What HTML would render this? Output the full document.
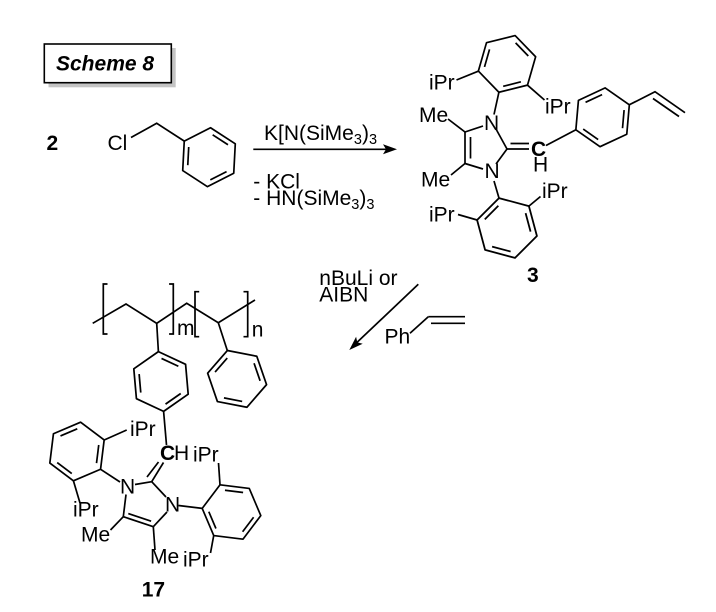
<!DOCTYPE html>
<html><head><meta charset="utf-8"><style>
html,body{margin:0;padding:0;background:#fff;}
svg{display:block;}
text{font-family:"Liberation Sans",Arial,sans-serif;font-size:21px;fill:#000;}
.b{font-weight:bold;}
</style></head><body>
<svg width="716" height="612" viewBox="0 0 716 612" xmlns="http://www.w3.org/2000/svg">
<defs>
<path id="hx" d="M29.5,0 L14.75,25.55 L-14.75,25.55 L-29.5,0 L-14.75,-25.55 L14.75,-25.55 Z" fill="none" stroke="#000" stroke-width="1.7" stroke-linejoin="round"/>
<line id="dl" x1="22.56" y1="2.49" x2="13.44" y2="18.29" stroke="#000" stroke-width="1.7"/>
</defs>

<!-- Scheme 8 box -->
<rect x="48.5" y="48" width="127.2" height="39.3" fill="#c4c4c4"/>
<rect x="44.3" y="44" width="127" height="38.7" fill="#fff" stroke="#000" stroke-width="1.6"/>
<text x="56" y="70.5" class="b" font-style="italic">Scheme 8</text>

<!-- 2 + benzyl chloride -->
<text x="46.5" y="150" class="b">2</text>
<text x="107.5" y="150">Cl</text>
<g fill="none" stroke="#000" stroke-width="1.7">
<polyline points="131,137.5 156.7,123.3 184.3,141.1"/>
</g>
<use href="#hx" transform="translate(209,157.2) rotate(-87)"/>
<use href="#dl" transform="translate(209,157.2) rotate(-87)"/>
<use href="#dl" transform="translate(209,157.2) rotate(33)"/>
<use href="#dl" transform="translate(209,157.2) rotate(153)"/>

<!-- arrow 1 -->
<line x1="253.3" y1="149.3" x2="386" y2="149.3" stroke="#000" stroke-width="1.7"/>
<polygon points="397,149.3 383,144.3 386,149.3 383,154.3" fill="#000"/>
<text x="264" y="140">K[N(SiMe<tspan font-size="14.5" dy="4">3</tspan><tspan dy="-4">)</tspan><tspan font-size="14.5" dy="4">3</tspan></text>
<text x="253.3" y="188.3">- KCl</text>
<text x="253.3" y="205">- HN(SiMe<tspan font-size="14.5" dy="4">3</tspan><tspan dy="-4">)</tspan><tspan font-size="14.5" dy="4">3</tspan></text>

<!-- compound 3 -->
<use href="#hx" transform="translate(507,63.9) rotate(-74)"/>
<use href="#dl" transform="translate(507,63.9) rotate(-74)"/>
<use href="#dl" transform="translate(507,63.9) rotate(46)"/>
<use href="#dl" transform="translate(507,63.9) rotate(166)"/>

<use href="#hx" transform="translate(507,228) rotate(-105) scale(1.05)"/>
<use href="#dl" transform="translate(507,228) rotate(-45) scale(1.05)"/>
<use href="#dl" transform="translate(507,228) rotate(75) scale(1.05)"/>
<use href="#dl" transform="translate(507,228) rotate(195) scale(1.05)"/>

<use href="#hx" transform="translate(602.6,117.3) rotate(-85)"/>
<use href="#dl" transform="translate(602.6,117.3) rotate(-25)"/>
<use href="#dl" transform="translate(602.6,117.3) rotate(95)"/>
<use href="#dl" transform="translate(602.6,117.3) rotate(215)"/>

<g fill="none" stroke="#000" stroke-width="1.7">
<line x1="499" y1="91.8" x2="494" y2="114.5"/>
<line x1="478.9" y1="70.9" x2="456.5" y2="80"/>
<line x1="527.1" y1="84.8" x2="544.5" y2="100"/>
<line x1="483" y1="126" x2="465" y2="132"/>
<line x1="465" y1="132" x2="465" y2="163.5"/>
<line x1="470.5" y1="137" x2="470.5" y2="158.5"/>
<line x1="465" y1="163.5" x2="483" y2="169"/>
<line x1="496" y1="164" x2="507" y2="149"/>
<line x1="507" y1="149" x2="496" y2="129"/>
<line x1="507" y1="149" x2="529" y2="149"/>
<line x1="510.5" y1="143.5" x2="529" y2="143.5"/>
<line x1="448" y1="119" x2="465" y2="132"/>
<line x1="465" y1="163.5" x2="451" y2="175"/>
<line x1="546" y1="145.5" x2="575.9" y2="129.8"/>
<polyline points="629.3,104.8 655,91.7 685,112.7"/>
<line x1="653" y1="98.5" x2="679" y2="116.5"/>
<line x1="494" y1="181" x2="499" y2="198.1"/>
<line x1="528.9" y1="206.1" x2="540.5" y2="196.5"/>
<line x1="477.1" y1="220" x2="458" y2="214.5"/>
</g>
<text x="429" y="89.5">iPr</text>
<text x="545" y="113.5">iPr</text>
<text x="419" y="122">Me</text>
<text x="484" y="130">N</text>
<text x="531" y="156" class="b">C</text>
<text x="533" y="171.7">H</text>
<text x="421" y="186.7">Me</text>
<text x="484.5" y="178">N</text>
<text x="542" y="198">iPr</text>
<text x="429" y="221.5">iPr</text>
<text x="527" y="282" class="b">3</text>

<!-- arrow 2 -->
<text x="319.3" y="285">nBuLi or</text>
<text x="319.3" y="301.7">AIBN</text>
<line x1="418.3" y1="284.3" x2="357" y2="342.4" stroke="#000" stroke-width="1.7"/>
<polygon points="349.3,350 356.1,336.8 357.3,342.4 362.7,343.8" fill="#000"/>
<text x="384.5" y="343.3">Ph</text>
<g stroke="#000" stroke-width="1.7" fill="none">
<line x1="410" y1="333.3" x2="428.3" y2="316.7"/>
<line x1="428.3" y1="316.7" x2="465" y2="316.7"/>
<line x1="431" y1="323.3" x2="465" y2="323.3"/>
</g>

<!-- polymer 17 -->
<g stroke="#000" stroke-width="1.7" fill="none">
<polyline points="92.7,323.3 126,304 156.7,323.3 186.7,303.3 218.3,322.7 255,300"/>
<polyline points="107.5,284 103.3,284 103.3,334 107.5,334"/>
<polyline points="169.1,284 173.3,284 173.3,334 169.1,334"/>
<polyline points="199.2,291.7 195,291.7 195,336.7 199.2,336.7"/>
<polyline points="243.5,291.7 247.7,291.7 247.7,336.7 243.5,336.7"/>
<line x1="156.7" y1="323.3" x2="158.4" y2="351.6"/>
<line x1="218.3" y1="322.7" x2="227.3" y2="350.5"/>
<line x1="163.6" y1="411.4" x2="166.5" y2="445"/>
</g>
<text x="177" y="335">m</text>
<text x="251.7" y="336.7">n</text>

<use href="#hx" transform="translate(161,381.5) rotate(-95) scale(1.017)"/>
<use href="#dl" transform="translate(161,381.5) rotate(-95) scale(1.017)"/>
<use href="#dl" transform="translate(161,381.5) rotate(25) scale(1.017)"/>
<use href="#dl" transform="translate(161,381.5) rotate(145) scale(1.017)"/>

<use href="#hx" transform="translate(237.1,378.9) rotate(-109) scale(1.017)"/>
<use href="#dl" transform="translate(237.1,378.9) rotate(-49) scale(1.017)"/>
<use href="#dl" transform="translate(237.1,378.9) rotate(71) scale(1.017)"/>
<use href="#dl" transform="translate(237.1,378.9) rotate(191) scale(1.017)"/>

<use href="#hx" transform="translate(77,451.5) rotate(-83)"/>
<use href="#dl" transform="translate(77,451.5) rotate(-23)"/>
<use href="#dl" transform="translate(77,451.5) rotate(97)"/>
<use href="#dl" transform="translate(77,451.5) rotate(217)"/>

<use href="#hx" transform="translate(231.5,512) rotate(7)"/>
<use href="#dl" transform="translate(231.5,512) rotate(7)"/>
<use href="#dl" transform="translate(231.5,512) rotate(127)"/>
<use href="#dl" transform="translate(231.5,512) rotate(247)"/>

<g stroke="#000" stroke-width="1.7" fill="none">
<line x1="151.7" y1="481.7" x2="163.5" y2="462.5"/>
<line x1="147" y1="477" x2="158.5" y2="462"/>
<line x1="135" y1="484.5" x2="151.7" y2="481.7"/>
<line x1="151.7" y1="481.7" x2="166" y2="497"/>
<line x1="167" y1="512" x2="153.3" y2="526.7"/>
<line x1="153.3" y1="526.7" x2="123.3" y2="516.7"/>
<line x1="151.1" y1="521.2" x2="128.3" y2="513.6"/>
<line x1="123.3" y1="516.7" x2="126" y2="494.5"/>
<line x1="123.3" y1="516.7" x2="110.5" y2="530"/>
<line x1="153.3" y1="526.7" x2="155" y2="550"/>
<line x1="120" y1="482" x2="100.6" y2="469.3"/>
<line x1="104.2" y1="440" x2="126.7" y2="430"/>
<line x1="73.4" y1="480.8" x2="80" y2="503"/>
<line x1="178.5" y1="505.5" x2="202.2" y2="508.4"/>
<line x1="220" y1="484.8" x2="218.5" y2="463"/>
<line x1="213.7" y1="535.6" x2="210.5" y2="553"/>
</g>
<text x="160" y="460" class="b">C</text>
<text x="174" y="460">H</text>
<text x="193" y="461.7">iPr</text>
<text x="130" y="436">iPr</text>
<text x="120" y="493.3">N</text>
<text x="165" y="511.7">N</text>
<text x="73" y="516.7">iPr</text>
<text x="81" y="541.7">Me</text>
<text x="150" y="563.3">Me</text>
<text x="183" y="566.7">iPr</text>
<text x="141.7" y="596.7" class="b">17</text>
</svg>
</body></html>
